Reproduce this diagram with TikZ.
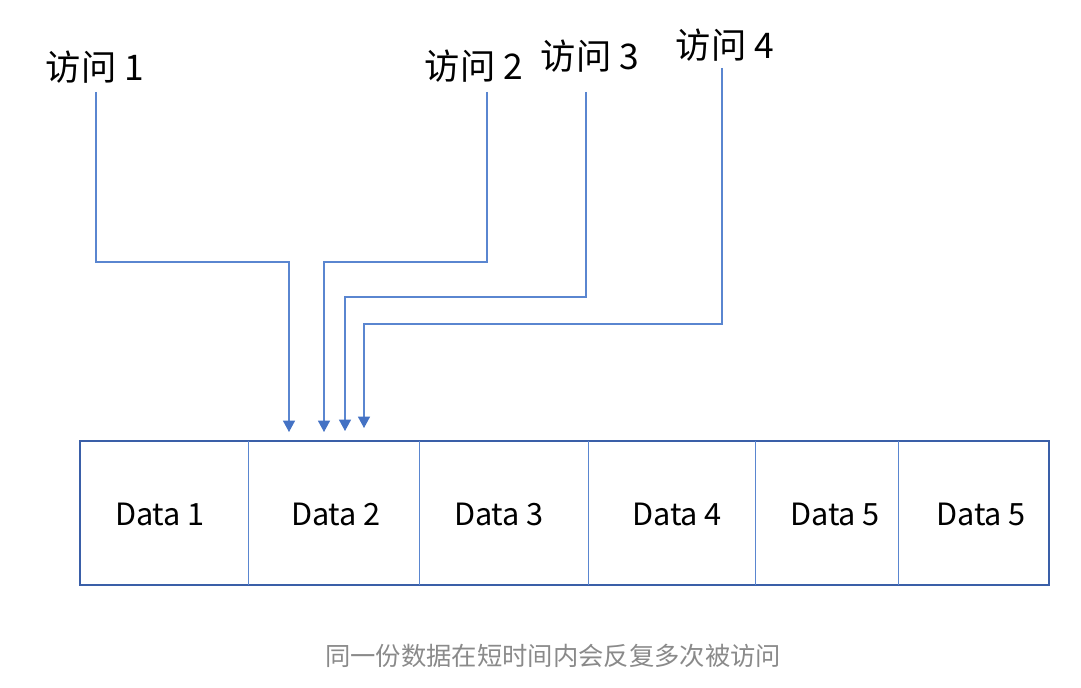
\documentclass[tikz,border=0pt]{standalone}
\usepackage{fontspec}
\setmainfont{Noto Sans CJK SC}
\usepackage{xcolor}
\usetikzlibrary{arrows.meta}

\definecolor{lineblue}{HTML}{5A86D0}
\definecolor{tipblue}{HTML}{4472C4}
\definecolor{boxblue}{HTML}{3A5FA8}
\definecolor{capgray}{HTML}{8A8A8A}

\begin{document}
\begin{tikzpicture}[x=0.75pt,y=0.75pt,yscale=-1,xscale=1]
\tikzset{
  acclabel/.style={inner sep=0.75pt,font=\fontsize{26.5}{30}\selectfont},
  datalabel/.style={inner sep=0.75pt,font=\fontsize{23}{27}\selectfont},
  accline/.style={lineblue,line width=0.8pt,-{Triangle[width=9pt,length=8.5pt,color=tipblue]}}
}
\useasboundingbox (0,0) rectangle (1081,688);

% access labels
\node[acclabel] (acc1) at (95,67) {访问 1};
\node[acclabel] (acc2) at (474,66) {访问 2};
\node[acclabel] (acc3) at (590,56) {访问 3};
\node[acclabel] (acc4) at (725,45) {访问 4};

% data row
\draw[boxblue,line width=1pt]   (80,441) -- (1049,441) -- (1049,585) -- (80,585) -- cycle ;
\draw[lineblue,line width=0.7pt]   (248,441) -- (248,585) ;
\draw[lineblue,line width=0.7pt]   (419,441) -- (419,585) ;
\draw[lineblue,line width=0.7pt]   (588,441) -- (588,585) ;
\draw[lineblue,line width=0.7pt]   (755,441) -- (755,585) ;
\draw[lineblue,line width=0.7pt]   (898,441) -- (898,585) ;

\node[datalabel] (data1) at (160,514) {Data 1};
\node[datalabel] (data2) at (336,514) {Data 2};
\node[datalabel] (data3) at (499,514) {Data 3};
\node[datalabel] (data4) at (677,514) {Data 4};
\node[datalabel] (data5) at (835,514) {Data 5};
\node[datalabel] (data6) at (981,514) {Data 5};

% connector ends
\coordinate (s1) at (96,92);
\coordinate (s2) at (487,92);
\coordinate (s3) at (586,92);
\coordinate (s4) at (722,68);
\coordinate (e1) at (289,432);
\coordinate (e2) at (324,432);
\coordinate (e3) at (345,431);
\coordinate (e4) at (364,428);

\draw[accline] (s1) -- (s1 |- 0,262) -| (e1);
\draw[accline] (s2) -- (s2 |- 0,262) -| (e2);
\draw[accline] (s3) -- (s3 |- 0,297) -| (e3);
\draw[accline] (s4) -- (s4 |- 0,324) -| (e4);

% caption
\node[inner sep=0.75pt,text=capgray,font=\fontsize{19}{22}\selectfont] (caption) at (553,656) {同一份数据在短时间内会反复多次被访问};

\end{tikzpicture}
\end{document}
